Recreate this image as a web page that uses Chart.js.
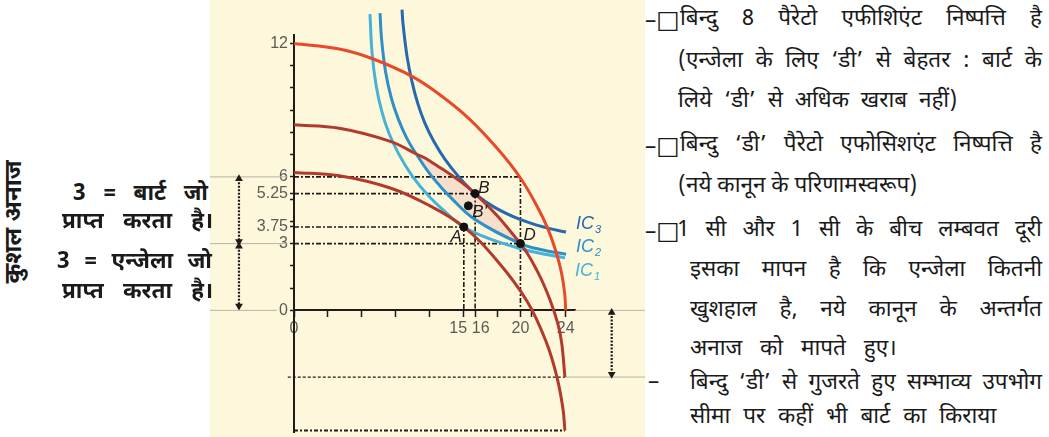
<!DOCTYPE html>
<html><head><meta charset="utf-8">
<script src="https://cdn.jsdelivr.net/npm/chart.js@4.4.1/dist/chart.umd.min.js"></script>
<style>
html,body{margin:0;padding:0;background:#fff;}
body{width:1049px;height:437px;position:relative;overflow:hidden;font-family:"Noto Sans Devanagari","Noto Sans",sans-serif;color:#1a1a1a;}
#plot{position:absolute;left:210px;top:0;width:435px;height:437px;background:#fdf8dc;}
#plot canvas{position:absolute;left:0;top:0;}
.ln{position:absolute;white-space:nowrap;height:30px;line-height:30px;}
.ln.j{display:flex;justify-content:space-between;}
.r{font-size:22.5px;}
.l{font-size:22.5px;font-weight:bold;}
.bx{font-family:"DejaVu Sans";font-size:25px;line-height:30px;}
#vt{position:absolute;left:15px;top:222px;transform:translate(-50%,-50%) rotate(-90deg);font-size:24px;font-weight:bold;white-space:nowrap;}
</style></head>
<body>
<div id="plot"><canvas id="c" width="435" height="437"></canvas></div>
<div id="vt">कुशल अनाज</div>
<div id="txt"></div>
<script>
// ---------- axis ticks ----------
const xTickValues = [0,3,6,9,12,15,16,18,20,21,24];
const xTickText = {"0":"0","15":"15\u2002\u2009","16":"\u2002\u200916","20":"20","24":"24"};
const yTickValues = [0,1,2,3,3.75,4,5,5.25,6,7,8,9,10,11,12];
const yTickText = {"0":"0","3":"3","3.75":"3.75","5.25":"5.25","6":"6","12":"12"};

// ---------- frontiers (red) ----------
const outerX = [0,4,7,10.5,13,15.5,18,20,21.5,22.4,23.1,23.6,23.9,24];
const outerY = [12,11.75,11.3,10.5,9.65,8.6,7.25,5.95,4.65,3.7,2.7,1.75,0.8,0];
const midX = [0,4,8.5,10.8,12,16,20,21.5,22.6,23.3,23.64,23.93];
const midY = [8.34,8.19,7.6,7.03,6.72,5.25,3.0,1.75,0.49,-0.6,-1.45,-3];
const innerX = [0,4,8.5,12,15,18,20.6,22.3,23.2,23.75,23.93];
const innerY = [6.2,6.05,5.5,4.7,3.75,2.2,0.4,-1.45,-2.95,-4.4,-5.4];

// ---------- indifference curves (blue) ----------
const ic1X = [6.71,6.89,7.24,7.73,8.39,9.28,10.42,11.84,13.43,15,17.31,19.96,22.17,23.94];
const ic1Y = [13.32,11.61,10.15,8.99,7.96,7.0,6.06,5.17,4.39,3.75,3.21,2.78,2.52,2.36];
const ic2X = [7.6,7.73,8.08,8.57,9.19,9.98,10.8,12.19,13.96,15.99,20,21.99,24.03];
const ic2Y = [13.36,12.22,10.75,9.6,8.63,7.72,7.03,6.01,5.01,4.08,3.0,2.71,2.52];
const ic3X = [9.54,9.63,9.98,10.42,10.95,11.57,12.37,13.34,14.58,16,17.76,19.96,22.17,24.03];
const ic3Y = [13.52,12.89,11.43,10.28,9.27,8.41,7.58,6.79,5.99,5.25,4.62,4.09,3.73,3.52];
const icNames = ["IC","IC","IC"];
const icSubs = ["1","2","3"];

// lens between mid frontier and IC2
const lensFrom = 10.8, lensTo = 20;

// ---------- marked points ----------
const pointNames = ["A","B","B'","D"];
const pointX = [15,16,15.4,20];
const pointY = [3.75,5.25,4.7,3];

// ---------- dashed guides ----------
const guideLevels = [6,5.25,3.75,3];
const guideEnds = [20,16,15,20];
const dropX = [20,16,15];
const dropTop = [6,5.25,3.75];
const lowerLevels = [-3,-5.4];
const lowerStarts = [-0.55,0];
const lowerEnds = [23.93,23.93];

// ---------- thin grey rules ----------
const greyLevels = [6,3,0,0,-3];
const greyStarts = [-8,-8,-8,24.8,23.93];
const greyEnds = [-0.6,-0.6,-1.5,32,32];

// ---------- double arrows ----------
const arrowX = [-4.86,-4.86,28.06];
const arrowTop = [5.92,2.88,-0.1];
const arrowBottom = [3.1,0.19,-2.87];

// ---------- build ----------
const pts = (xs,ys)=>xs.map((x,i)=>({x:x,y:ys[i]}));
const sub = (xs,ys,a,b)=>pts(xs,ys).filter(p=>p.x>=a&&p.x<=b);
const INK = '#221a16';
const datasets = [];

datasets.push({data:sub(midX,midY,lensFrom,lensTo),borderWidth:0,pointRadius:0,fill:'+1',backgroundColor:'rgba(232,150,150,0.24)',tension:0.4,order:100});
datasets.push({data:sub(ic2X,ic2Y,lensFrom,lensTo),borderWidth:0,pointRadius:0,fill:false,tension:0.4,order:99});

greyLevels.forEach((lv,i)=>datasets.push({data:[{x:greyStarts[i],y:lv},{x:greyEnds[i],y:lv}],borderColor:'#b9b3a3',borderWidth:1,pointRadius:0,order:80}));
guideLevels.forEach((lv,i)=>datasets.push({data:[{x:0,y:lv},{x:guideEnds[i],y:lv}],borderColor:INK,borderWidth:1.6,borderDash:[5,2,2,2],pointRadius:0,order:50}));
dropX.forEach((xv,i)=>datasets.push({data:[{x:xv,y:dropTop[i]},{x:xv,y:0}],borderColor:INK,borderWidth:1.6,borderDash:[5,2,2,2],pointRadius:0,order:50}));
lowerLevels.forEach((lv,i)=>datasets.push({data:[{x:lowerStarts[i],y:lv},{x:lowerEnds[i],y:lv}],borderColor:INK,borderWidth:i===0?1.2:2,borderDash:i===0?[3,2]:[4,2,2,2],pointRadius:0,order:50}));

const curve = (xs,ys,color)=>({data:pts(xs,ys),borderColor:color,borderWidth:3,pointRadius:0,tension:0.4,order:20});
datasets.push(curve(innerX,innerY,'#b23a2b'));
datasets.push(curve(midX,midY,'#b23a2b'));
datasets.push(curve(outerX,outerY,'#e8492b'));
datasets.push(curve(ic1X,ic1Y,'#45b2d6'));
datasets.push(curve(ic2X,ic2Y,'#2f8fc6'));
datasets.push(curve(ic3X,ic3Y,'#2669ad'));
const icColors = ['#45b2d6','#2f8fc6','#2669ad'];
const icLast = [[ic1X,ic1Y],[ic2X,ic2Y],[ic3X,ic3Y]];

arrowX.forEach((xv,i)=>datasets.push({isArrow:true,data:[{x:xv,y:arrowTop[i]},{x:xv,y:arrowBottom[i]}],borderColor:INK,borderWidth:2.2,borderDash:[2,1.5],pointStyle:'triangle',pointRadius:4.5,pointRotation:[0,180],pointBackgroundColor:INK,pointBorderColor:INK,pointBorderWidth:0,order:5}));

datasets.push({data:pts(pointX,pointY),showLine:false,pointRadius:4,pointBackgroundColor:'#111',pointBorderColor:'#111',order:0});

datasets.forEach(d=>{d.clip=false;});

// label offsets (pixels, styling only)
const ptLabelOff = [[-2,10,'right'],[3,-5,'left'],[4,6,'left'],[3,-8,'left']];
const icLabelOff = [[10,13],[10,-7],[10,-8]];

// arrow heads lie outside the chart area: draw the library's own point elements there too
const arrowPlugin = {
  id:'arrowHeads',
  afterDatasetsDraw(chart){
    const full = {left:0,top:0,right:chart.width,bottom:chart.height};
    chart.data.datasets.forEach((d,i)=>{
      if(!d.isArrow) return;
      chart.getDatasetMeta(i).data.forEach(p=>p.draw(chart.ctx,full));
    });
  }
};

const labelPlugin = {
  id:'labels',
  afterDatasetsDraw(chart){
    const {ctx,scales:{x,y}} = chart;
    ctx.save();
    ctx.textBaseline='middle';
    ctx.fillStyle='#1e1e1e';
    ctx.font='italic 17px "Liberation Sans"';
    pointNames.forEach((n,i)=>{
      const o=ptLabelOff[i];
      ctx.textAlign=o[2];
      ctx.fillText(n,x.getPixelForValue(pointX[i])+o[0],y.getPixelForValue(pointY[i])+o[1]);
    });
    ctx.textAlign='left';
    icLast.forEach((c,i)=>{
      const xs=c[0],ys=c[1];
      const px=x.getPixelForValue(xs[xs.length-1])+icLabelOff[i][0];
      const py=y.getPixelForValue(ys[ys.length-1])+icLabelOff[i][1];
      ctx.fillStyle=icColors[i];
      ctx.font='italic 18px "Liberation Sans"';
      ctx.fillText(icNames[i],px,py);
      const w=ctx.measureText(icNames[i]).width;
      ctx.font='italic 11px "Liberation Sans"';
      ctx.fillText(icSubs[i],px+w+1,py+6);
    });
    ctx.restore();
  }
};

const tickFont = {family:'"Liberation Sans"',size:16};
new Chart(document.getElementById('c'),{
  type:'line',
  data:{datasets:datasets},
  plugins:[arrowPlugin,labelPlugin],
  options:{
    responsive:false,animation:false,devicePixelRatio:1,events:[],
    elements:{line:{capBezierPoints:false}},
    layout:{padding:{left:0,right:70,top:35,bottom:4}},
    plugins:{legend:{display:false},tooltip:{enabled:false}},
    scales:{
      x:{type:'linear',min:0,max:24.82,position:{y:0},
         afterBuildTicks:s=>{s.ticks=xTickValues.map(v=>({value:v}));},
         afterFit:s=>{s.paddingLeft=0;s.paddingRight=0;},
         grid:{drawOnChartArea:false,drawTicks:true,tickLength:6,tickColor:INK,tickWidth:1.5},
         border:{display:true,color:INK,width:2},
         ticks:{autoSkip:false,maxRotation:0,padding:3,color:'#5c5a55',font:tickFont,callback:v=>xTickText[String(v)]??''}},
      y:{type:'linear',min:-5.47,max:12.38,position:'left',
         afterBuildTicks:s=>{s.ticks=yTickValues.map(v=>({value:v}));},
         afterFit:s=>{s.width=84;s.paddingTop=0;s.paddingBottom=0;},
         grid:{drawOnChartArea:false,drawTicks:true,tickLength:4,tickColor:INK,tickWidth:1.5},
         border:{display:true,color:INK,width:2},
         ticks:{autoSkip:false,padding:2,color:'#5c5a55',font:tickFont,callback:v=>yTickText[String(v)]??''}}
    }
  }
});

// ---------- surrounding Hindi text ----------
const leftLines = [
  {t:"3 = बार्ट जो",x:73,w:135,cy:195},
  {t:"प्राप्त करता है।",x:62,w:151,cy:223},
  {t:"3 = एन्जेला जो",x:57,w:155,cy:263},
  {t:"प्राप्त करता है।",x:62,w:151,cy:293}
];
const rightLines = [
  {t:"–□",x:645,cy:20},
  {t:"बिन्दु 8 पैरेटो एफीशिएंट निष्पत्ति है",x:680,w:362,cy:20,j:true},
  {t:"(एन्जेला के लिए ‘डी’ से बेहतर : बार्ट के",x:678,w:364,cy:62,j:true},
  {t:"लिये ‘डी’ से अधिक खराब नहीं)",x:678,cy:102,ws:6},
  {t:"–□",x:645,cy:146},
  {t:"बिन्दु ‘डी’ पैरेटो एफोसिशएंट निष्पत्ति है",x:680,w:362,cy:146,j:true},
  {t:"(नये कानून के परिणामस्वरूप)",x:678,cy:187},
  {t:"–□",x:645,cy:231},
  {t:"1 सी और 1 सी के बीच लम्बवत दूरी",x:677,w:365,cy:231,j:true},
  {t:"इसका मापन है कि एन्जेला कितनी",x:690,w:352,cy:271,j:true},
  {t:"खुशहाल है, नये कानून के अन्तर्गत",x:690,w:352,cy:311,j:true},
  {t:"अनाज को मापते हुए।",x:690,cy:350,ws:12},
  {t:"–",x:648,cy:384},
  {t:"बिन्दु ‘डी’ से गुजरते हुए सम्भाव्य उपभोग",x:690,w:352,cy:384,j:true},
  {t:"सीमा पर कहीं भी बार्ट का किराया",x:690,cy:418,ws:7}
];
const host = document.getElementById('txt');
function fillWord(el,w){
  const k=w.indexOf('□');
  if(k<0){el.textContent=w;return;}
  if(k>0) el.appendChild(document.createTextNode(w.slice(0,k)));
  const b=document.createElement('span');b.className='bx';b.textContent='□';el.appendChild(b);
  if(k<w.length-1) el.appendChild(document.createTextNode(w.slice(k+1)));
}
function place(list,cls,forceJ){
  list.forEach(L=>{
    const d=document.createElement('div');
    d.className='ln '+cls+((L.j||forceJ)?' j':'');
    d.style.left=L.x+'px';
    d.style.top=(L.cy-15)+'px';
    if(L.w) d.style.width=L.w+'px';
    if(L.ws) d.style.wordSpacing=L.ws+'px';
    if(L.j||forceJ){
      L.t.split(' ').forEach(w=>{const s=document.createElement('span');fillWord(s,w);d.appendChild(s);});
    } else fillWord(d,L.t);
    host.appendChild(d);
  });
}
place(leftLines,'l',true);
place(rightLines,'r',false);
</script>
</body></html>
